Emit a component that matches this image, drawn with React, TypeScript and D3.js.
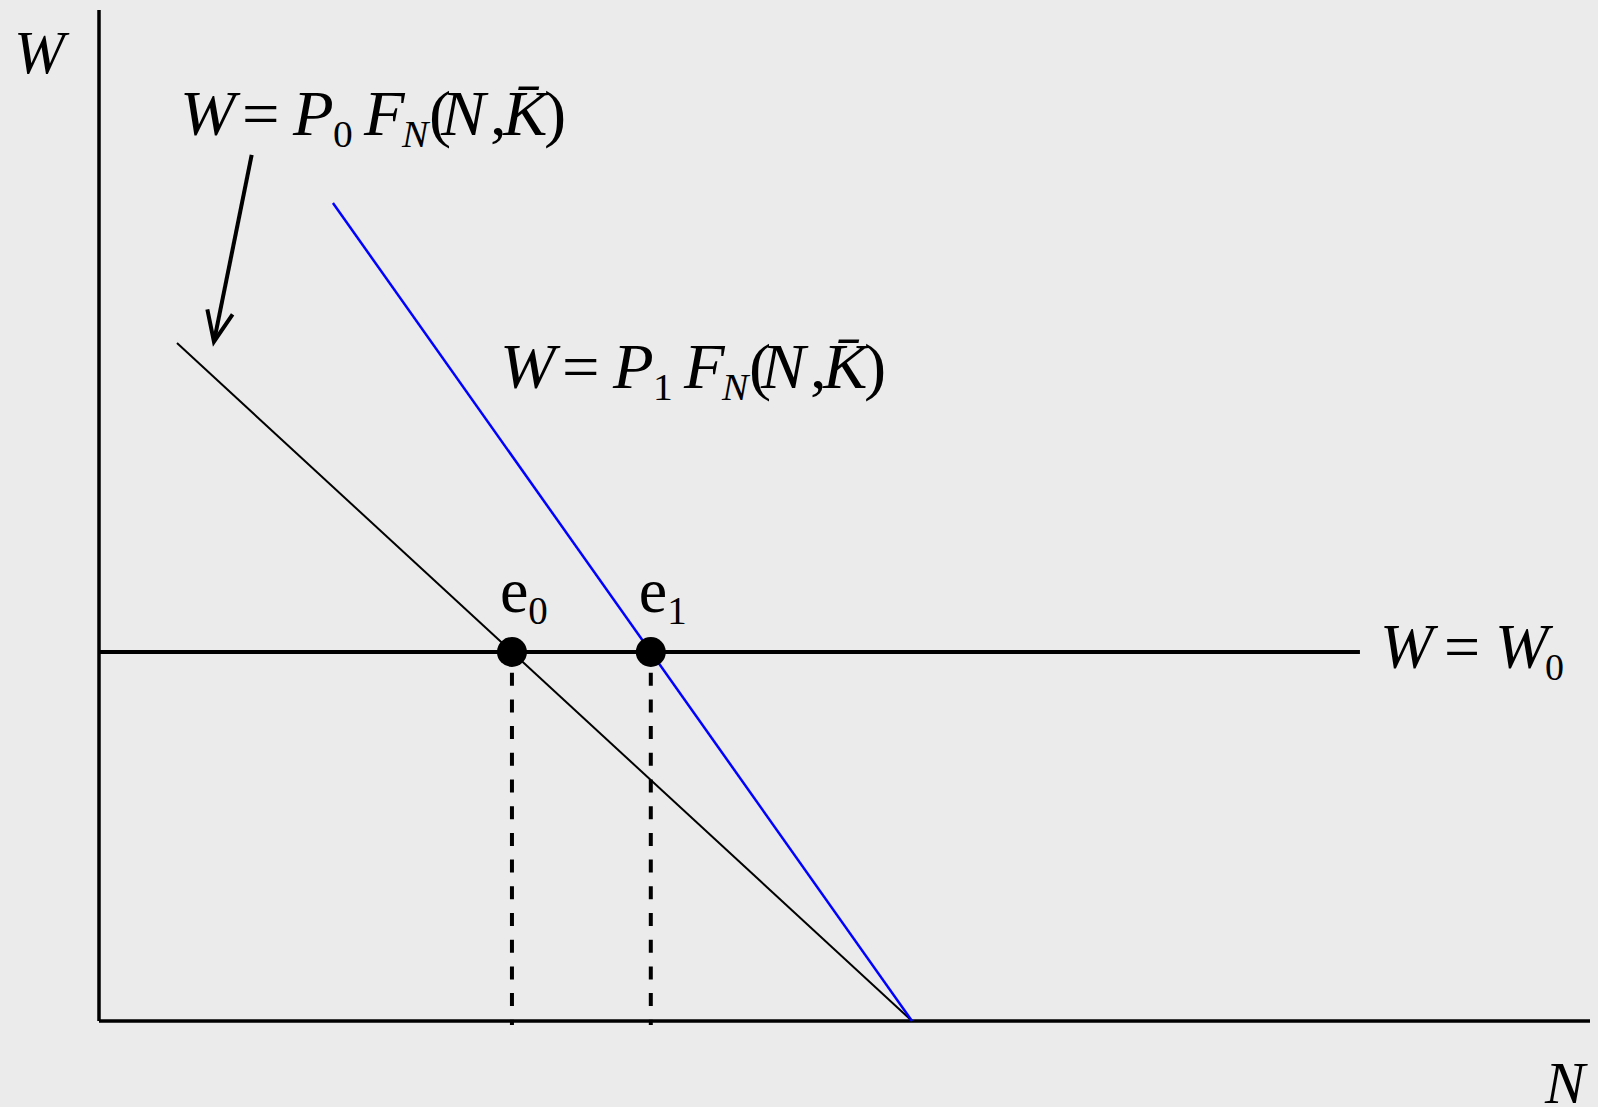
import React from "react";
import * as d3 from "d3";

// ---- data (model units: N on x, W on y) ----
const demandP0 = [
  { n: 5.23, w: 67.06 },
  { n: 54.53, w: 0 },
];
const demandP1 = [
  { n: 15.69, w: 80.91 },
  { n: 54.53, w: 0 },
];
const wageW0 = 36.5;
const wageLineEndN = 84.57;
const arrowFrom = { n: 10.24, w: 85.66 };
const arrowTo = { n: 7.71, w: 67.19 };
const eqNames = ["0", "1"];

const W = 1598;
const H = 1107;

const x = d3.scaleLinear().domain([0, 100]).range([99, 1590]);
const y = d3.scaleLinear().domain([0, 100]).range([1021, 10]);

const line = d3
  .line<{ n: number; w: number }>()
  .x((d) => x(d.n))
  .y((d) => y(d.w));

function intersectN(seg: { n: number; w: number }[], w: number) {
  const [a, b] = seg;
  const t = (w - a.w) / (b.w - a.w);
  return a.n + t * (b.n - a.n);
}

type Part = { t: string; i?: boolean; sub?: boolean; off: number };

const FONT = "'Liberation Serif', 'Times New Roman', serif";

function MathText({ parts, xPos, yPos, size = 64, subSize = 38, subShift = 12, sx = 1 }: { parts: Part[]; xPos: number; yPos: number; size?: number; subSize?: number; subShift?: number; sx?: number }) {
  return (
    <g transform={`translate(${xPos},${yPos}) scale(${sx},1)`}>
      <text fontFamily={FONT} fontSize={size} fill="#000">
        {parts.map((p, k) => (
          <tspan
            key={k}
            x={p.off / sx}
            y={p.sub ? subShift : 0}
            fontStyle={p.i ? "italic" : "normal"}
            fontSize={p.sub ? subSize : size}
          >
            {p.t}
          </tspan>
        ))}
      </text>
    </g>
  );
}

function demandLabel(idx: string): Part[] {
  return [
    { t: "W", i: true, off: 0 },
    { t: "=", off: 62 },
    { t: "P", i: true, off: 113 },
    { t: idx, sub: true, off: 153 },
    { t: "F", i: true, off: 184 },
    { t: "N", i: true, sub: true, off: 222 },
    { t: "(", off: 249 },
    { t: "N", i: true, off: 261 },
    { t: ",", off: 310 },
    { t: "K\u0304", i: true, off: 323 },
    { t: ")", off: 364 },
  ];
}

const wageLabel: Part[] = [
  { t: "W", i: true, off: 0 },
  { t: "=", off: 64 },
  { t: "W", i: true, off: 115 },
  { t: "0", sub: true, off: 165 },
];

export default function App() {
  const eqN = [intersectN(demandP0, wageW0), intersectN(demandP1, wageW0)];

  // arrow head
  const tx = x(arrowTo.n);
  const ty = y(arrowTo.w);
  const fx = x(arrowFrom.n);
  const fy = y(arrowFrom.w);
  const ang = Math.atan2(fy - ty, fx - tx);
  const hl = 33;
  const ha = (23 * Math.PI) / 180;
  const w1 = [tx + hl * Math.cos(ang - ha), ty + hl * Math.sin(ang - ha)];
  const w2 = [tx + hl * Math.cos(ang + ha), ty + hl * Math.sin(ang + ha)];

  return (
    <svg
      width={W}
      height={H}
      style={{ position: "absolute", left: 0, top: 0, display: "block" }}
      xmlns="http://www.w3.org/2000/svg"
    >
      <rect x={0} y={0} width={W} height={H} fill="#ebebeb" />

      {/* dashed verticals */}
      {eqN.map((n, k) => (
        <line
          key={"d" + k}
          x1={x(n)}
          x2={x(n)}
          y1={y(wageW0)}
          y2={y(-0.4)}
          stroke="#000"
          strokeWidth={4}
          strokeDasharray="13 13.7"
          strokeDashoffset={6}
        />
      ))}

      {/* axes */}
      <line x1={x(0)} x2={x(0)} y1={y(100)} y2={y(0)} stroke="#000" strokeWidth={3.5} />
      <line x1={x(0)} x2={x(100)} y1={y(0)} y2={y(0)} stroke="#000" strokeWidth={3.5} />

      {/* wage line */}
      <line x1={x(0)} x2={x(wageLineEndN)} y1={y(wageW0)} y2={y(wageW0)} stroke="#000" strokeWidth={4} />

      {/* demand curves */}
      <path d={line(demandP0) || ""} fill="none" stroke="#000" strokeWidth={2} />
      <path d={line(demandP1) || ""} fill="none" stroke="#0000ff" strokeWidth={2.5} />

      {/* equilibrium points */}
      {eqN.map((n, k) => (
        <circle key={"c" + k} cx={x(n)} cy={y(wageW0)} r={15} fill="#000" />
      ))}
      {eqN.map((n, k) => (
        <text key={"e" + k} x={x(n) - 12} y={612} fontFamily={FONT} fontSize={64} fill="#000">
          e
          <tspan fontSize={39} dy={12} dx={0}>
            {eqNames[k]}
          </tspan>
        </text>
      ))}

      {/* arrow */}
      <line x1={fx} y1={fy} x2={tx} y2={ty} stroke="#000" strokeWidth={4} />
      <path
        d={`M${w1[0]},${w1[1]} L${tx},${ty} L${w2[0]},${w2[1]}`}
        fill="none"
        stroke="#000"
        strokeWidth={4}
        strokeLinejoin="miter"
      />

      {/* axis labels */}
      <text x={14} y={73} fontFamily={FONT} fontSize={61} fontStyle="italic" fill="#000">W</text>
      <text x={1545} y={1103} fontFamily={FONT} fontSize={60} fontStyle="italic" fill="#000">N</text>

      <MathText parts={demandLabel("0")} xPos={180} yPos={135} sx={1.04} />
      <MathText parts={demandLabel("1")} xPos={500} yPos={388} sx={1.04} />
      <MathText parts={wageLabel} xPos={1380} yPos={668} />
    </svg>
  );
}
